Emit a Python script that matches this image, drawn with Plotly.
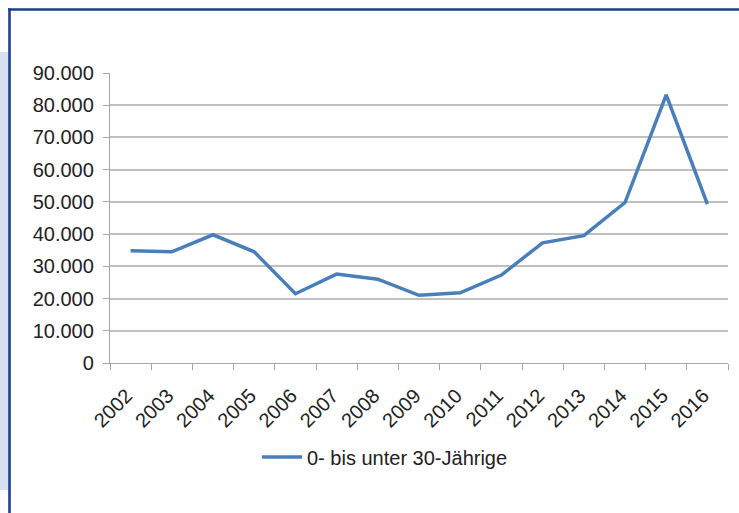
import plotly.graph_objects as go

years = ["2002", "2003", "2004", "2005", "2006", "2007", "2008", "2009",
         "2010", "2011", "2012", "2013", "2014", "2015", "2016"]
values = [34800, 34500, 39800, 34500, 21500, 27600, 26000, 21000,
          21800, 27300, 37300, 39500, 49800, 83200, 49300]
series_name = "0- bis unter 30-Jährige"
y_tickvals = [0, 10000, 20000, 30000, 40000, 50000, 60000, 70000, 80000, 90000]
y_ticktext = ["0", "10.000", "20.000", "30.000", "40.000", "50.000",
              "60.000", "70.000", "80.000", "90.000"]

W, H = 739, 513
L, R, T, B = 110, 11, 73, 150
pw, ph = W - L - R, H - T - B


def px_x(px):
    return (px - L) / pw


def px_y(py):
    return (H - B - py) / ph


fig = go.Figure()
fig.add_trace(go.Scatter(
    x=years, y=values, mode="lines", name=series_name,
    line=dict(color="#4a7ebb", width=3.5),
))

frame_color = "#1c3f8c"
shapes = [
    dict(type="rect", xref="paper", yref="paper", layer="below",
         x0=px_x(-5), x1=px_x(8.5), y0=px_y(490), y1=px_y(52),
         fillcolor="#d6e0ee", line=dict(width=0)),
    dict(type="line", xref="paper", yref="paper",
         x0=px_x(8), x1=px_x(760), y0=px_y(9.5), y1=px_y(9.5),
         line=dict(color=frame_color, width=2.6)),
    dict(type="line", xref="paper", yref="paper",
         x0=px_x(9.5), x1=px_x(9.5), y0=px_y(8.2), y1=px_y(530),
         line=dict(color=frame_color, width=2.6)),
]

fig.update_layout(
    width=W, height=H,
    margin=dict(l=L, r=R, t=T, b=B, pad=0),
    paper_bgcolor="white", plot_bgcolor="white",
    font=dict(family="Liberation Sans, Arial, sans-serif", size=20, color="#222222"),
    showlegend=True,
    legend=dict(orientation="h", x=px_x(257), xanchor="left",
                y=px_y(457), yanchor="middle", itemwidth=40,
                font=dict(size=20, color="#222222"),
                bgcolor="rgba(0,0,0,0)"),
    shapes=shapes,
    xaxis=dict(
        type="category", tickangle=-45, tickson="boundaries",
        showgrid=False, showline=True, linecolor="#a6a6a6", linewidth=1.3,
        ticks="outside", ticklen=6, tickcolor="#a6a6a6", tickwidth=1.3,
        tickfont=dict(size=20, color="#222222"), ticklabelstandoff=12,
        ticklabelshift=-4,
        range=[-0.5, len(years) - 0.5],
    ),
    yaxis=dict(
        range=[0, 90000], tickvals=y_tickvals, ticktext=y_ticktext,
        showgrid=True, gridcolor="#c0c0c0", gridwidth=1.6,
        showline=True, linecolor="#a6a6a6", linewidth=1.3,
        ticks="outside", ticklen=6, tickcolor="#a6a6a6", tickwidth=1.3,
        tickfont=dict(size=20, color="#222222"), ticklabelstandoff=5,
        zeroline=False,
    ),
)

fig.write_html("out.html",
               config={"displayModeBar": False},
               post_script="document.body.style.margin='0';"
                           "document.documentElement.style.margin='0';")
